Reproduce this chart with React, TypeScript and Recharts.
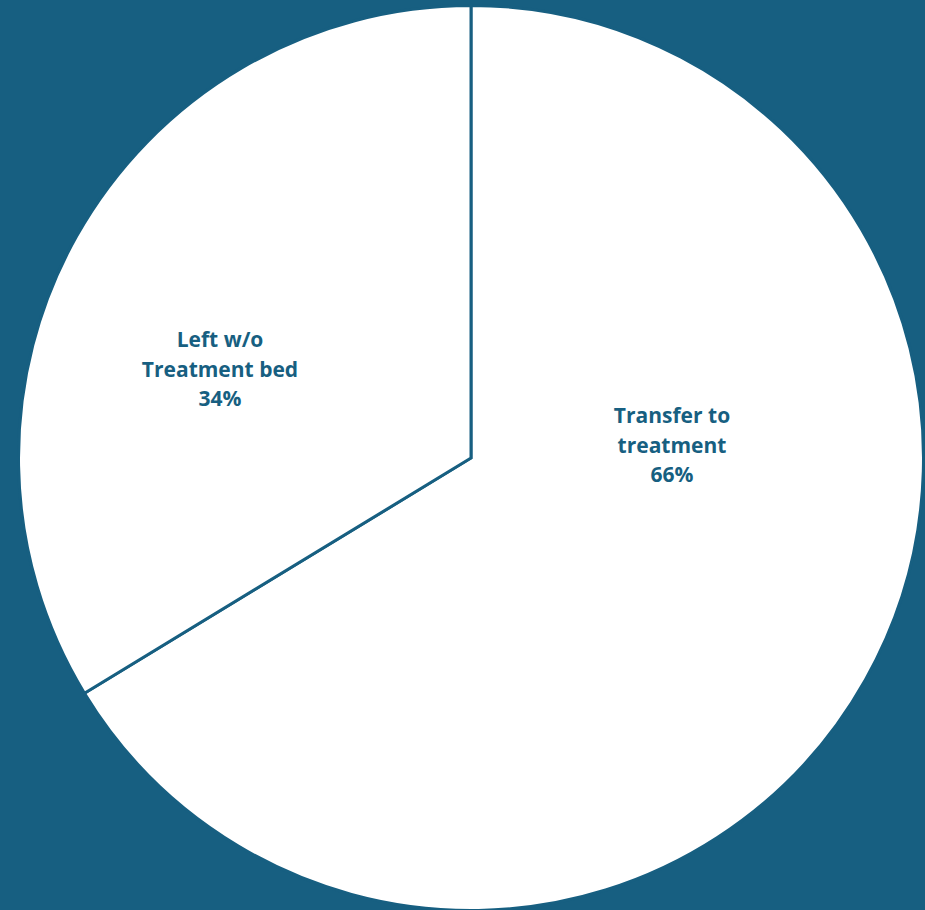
import { Cell, Pie, PieChart } from 'recharts'

const categories = ['Transfer to treatment', 'Left w/o Treatment bed']
const labelLines = [
  ['Transfer to', 'treatment'],
  ['Left w/o', 'Treatment bed'],
]
// shown rounded as 66% / 34%; the slice edge sits a little past 66%
const shares = [66.3, 33.7]

const BG = '#175f81'
// label anchor offsets from pie centre (Excel "best fit" placement, not mid-angle)
const labelOffsets = [
  { dx: 201, dy: -35 },
  { dx: -251, dy: -111 },
]

const data = categories.map((name, i) => ({ name, value: shares[i] }))

const renderLabel = (props: any) => {
  const { cx, cy, index, value } = props
  const off = labelOffsets[index]
  const lines = [...labelLines[index], `${Math.round(value)}%`]
  return (
    <text
      x={cx + off.dx}
      y={cy + off.dy}
      textAnchor="middle"
      fill={BG}
      fontFamily="'Open Sans', Inter, sans-serif"
      fontWeight={700}
      fontSize={21}
    >
      {lines.map((line, i) => (
        <tspan key={i} x={cx + off.dx} dy={i === 0 ? 0 : 29.5}>
          {line}
        </tspan>
      ))}
    </text>
  )
}

export default function App() {
  return (
    <div style={{ position: 'fixed', left: 0, top: 0, width: 925, height: 910, background: BG }}>
      <PieChart width={925} height={910} margin={{ top: 0, right: 0, bottom: 0, left: 0 }}>
        <Pie
          data={data}
          dataKey="value"
          nameKey="name"
          cx={471}
          cy={458}
          outerRadius={452.5}
          startAngle={90}
          endAngle={-270}
          stroke={BG}
          strokeWidth={3}
          label={renderLabel}
          labelLine={false}
          isAnimationActive={false}
        >
          {data.map((d) => (
            <Cell key={d.name} fill="#ffffff" />
          ))}
        </Pie>
      </PieChart>
    </div>
  )
}
